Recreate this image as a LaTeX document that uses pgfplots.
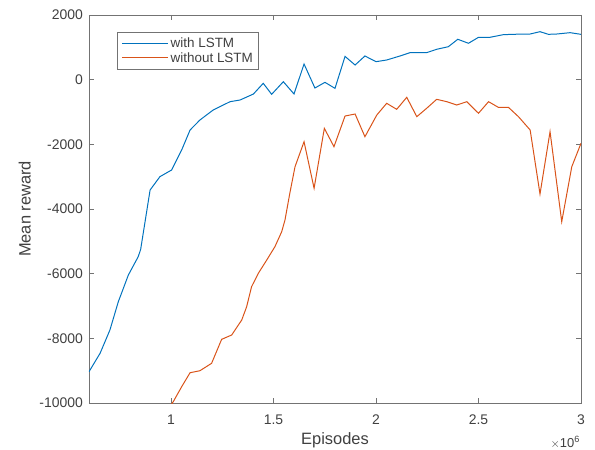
\documentclass[border=0pt]{standalone}
\usepackage{fontspec}
\setmainfont{Liberation Sans}
\usepackage{pgfplots}
\pgfplotsset{compat=1.18}
\definecolor{mblue}{rgb}{0,0.447,0.741}
\definecolor{morange}{rgb}{0.85,0.325,0.098}
\definecolor{axgray}{gray}{0.45}
\definecolor{txgray}{gray}{0.25}

\begin{document}
\begin{tikzpicture}
\begin{axis}[
  width=492bp, height=388bp,
  scale only axis,
  xmin=0.6, xmax=3,
  ymin=-10000, ymax=2000,
  xtick={1,1.5,2,2.5,3},
  ytick={-10000,-8000,-6000,-4000,-2000,0,2000},
  /pgf/number format/assume math mode=true,
  /pgf/number format/set thousands separator={},
  scaled y ticks=false,
  tick align=inside,
  major tick length=5bp,
  axis line style={axgray, line width=0.8pt},
  tick style={axgray, line width=0.8pt},
  ticklabel style={font=\fontsize{14}{16}\selectfont, text=txgray, inner sep=0pt},
  xticklabel style={anchor=base, yshift=-21bp},
  yticklabel style={anchor=east, xshift=-6bp},
  xlabel={Episodes},
  ylabel={Mean reward},
  label style={font=\fontsize{16.5}{18}\selectfont, text=txgray, inner sep=0pt},
  xlabel style={at={(axis description cs:0.5,-0.108)}, anchor=base},
  ylabel style={at={(axis description cs:-0.118,0.5)}, anchor=south},
  legend style={at={(rel axis cs:0.0575,0.957)}, anchor=north west,
    draw=axgray, line width=0.8pt, font=\fontsize{13.5}{15}\selectfont,
    text=txgray, inner xsep=4bp, inner ysep=4bp, row sep=-1bp},
  legend cell align=left,
  legend image code/.code={\draw[#1, line width=1pt] (0bp,0bp) -- (46bp,0bp);},
  clip=true,
]
\addplot[mblue, line width=1pt] coordinates {
  (0.600,-9033) (0.654,-8464) (0.702,-7743) (0.743,-6868) (0.792,-6042)
  (0.840,-5475) (0.852,-5250) (0.898,-3413) (0.946,-3000)
  (1.003,-2794) (1.052,-2176) (1.093,-1557) (1.141,-1248) (1.206,-938)
  (1.288,-681) (1.337,-629) (1.402,-444) (1.450,-113) (1.491,-453)
  (1.548,-63) (1.600,-443) (1.649,484) (1.702,-258) (1.751,-83)
  (1.800,-268) (1.849,720) (1.898,453) (1.946,732) (2.000,556)
  (2.052,608) (2.117,732) (2.166,835) (2.247,835) (2.296,939)
  (2.353,1020) (2.399,1249) (2.451,1125) (2.500,1310) (2.556,1310)
  (2.621,1392) (2.719,1412) (2.752,1412) (2.800,1484) (2.841,1402)
  (2.882,1412) (2.947,1453) (3.000,1402)
};
\addlegendentry{with LSTM}
\addplot[morange, line width=1pt] coordinates {
  (0.995,-10100) (1.011,-9960) (1.052,-9497) (1.093,-9064) (1.141,-9002)
  (1.198,-8773) (1.247,-8031) (1.296,-7897) (1.345,-7434) (1.369,-7023)
  (1.393,-6404) (1.426,-5989) (1.467,-5578) (1.507,-5165) (1.540,-4702)
  (1.556,-4341) (1.580,-3500) (1.605,-2692) (1.649,-1919) (1.698,-3360)
  (1.748,-1505) (1.795,-2073) (1.849,-1124) (1.898,-1062) (1.946,-1764)
  (2.004,-1093) (2.052,-731) (2.101,-917) (2.150,-546) (2.199,-1145)
  (2.247,-886) (2.296,-608) (2.345,-681) (2.394,-784) (2.443,-681)
  (2.500,-1040) (2.549,-681) (2.597,-856) (2.646,-856) (2.695,-1145)
  (2.752,-1557) (2.800,-3537) (2.849,-1609) (2.906,-4393) (2.955,-2692)
  (3.000,-1969)
};
\addlegendentry{without LSTM}
\end{axis}
\node[anchor=base east, inner sep=0pt, font=\fontsize{13}{15}\selectfont, text=txgray]
  at ([xshift=-1bp, yshift=-44bp]current axis.south east) {$\times$10\textsuperscript{6}};
\pgfresetboundingbox
\path ([shift={(-89bp,-47bp)}]current axis.south west) rectangle ([shift={(14bp,15bp)}]current axis.north east);
\end{tikzpicture}
\end{document}
